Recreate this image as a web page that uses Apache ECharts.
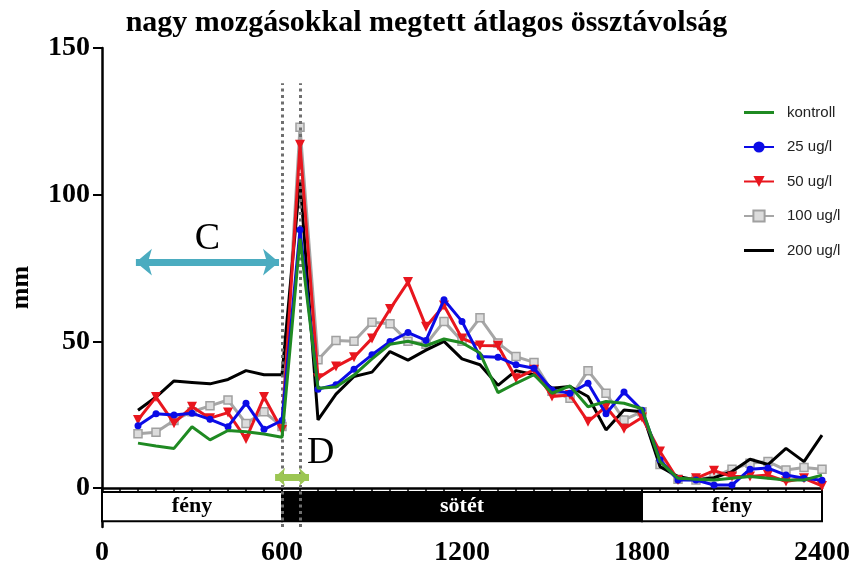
<!DOCTYPE html>
<html>
<head>
<meta charset="utf-8">
<script src="https://cdn.jsdelivr.net/npm/echarts@6/dist/echarts.min.js"></script>
<style>
  html, body { margin: 0; padding: 0; background: #fff; }
  #chart { width: 853px; height: 574px; }
</style>
</head>
<body>
<div id="chart"></div>
<script>
// időpontok (s)
const times = [120, 180, 240, 300, 360, 420, 480, 540, 600, 660,
  720, 780, 840, 900, 960, 1020, 1080, 1140, 1200, 1260, 1320, 1380, 1440, 1500,
  1560, 1620, 1680, 1740, 1800, 1860, 1920, 1980, 2040, 2100, 2160, 2220, 2280, 2340, 2400]

const kontroll = [15.3, 14.3, 13.5, 20.9, 16.4, 19.6, 19.2, 18.4, 17.3, 85,
  34, 34.4, 38.5, 44, 49, 50, 48.5, 50.8, 49.5, 46, 32.5, 35.7, 38.6, 32.3,
  34.8, 27.7, 29.5, 28.9, 27, 9, 3.3, 3, 2.7, 3.3, 3.9, 3.3, 2.7, 2.7, 4.4]
const ug25 = [21.2, 25.3, 24.9, 25.5, 23.4, 20.9, 28.9, 20, 23, 88,
  33.7, 35.2, 40.5, 45.4, 49.9, 53, 50.3, 64.2, 56.8, 44.8, 44.6, 42, 40.8, 33.4,
  32.3, 35.7, 25.3, 32.7, 26.5, 9.6, 2.7, 2.7, 1, 1, 6.4, 6.8, 4.4, 3.3, 2.6]
const ug50 = [23.2, 31, 22.1, 27.7, 23.8, 25.7, 16.7, 31, 19.8, 117,
  37.4, 41.4, 44.6, 51, 61, 70.2, 55, 62.2, 51, 48.6, 48.5, 37.4, 40.3, 31.2,
  31.7, 22.6, 27.7, 20.2, 24, 12.4, 2.7, 3.3, 5.9, 3.9, 3.9, 4.4, 2.2, 3.3, 0.7]
const ug100 = [18.5, 19, 23, 26, 28, 30, 22, 26, 21, 123,
  43.7, 50.3, 50, 56.5, 56, 50, 49, 56.8, 50, 58, 49.4, 44.8, 42.8, 33,
  30.6, 40, 32.3, 23.2, 26, 8, 3, 2.7, 3.9, 6.4, 8.4, 9, 6.1, 7, 6.4]
const ug200 = [26.5, 31, 36.5, 36, 35.5, 37, 40, 38.6, 38.6, 105,
  23.2, 32, 38, 39.5, 46.5, 43.6, 47, 50, 44, 42, 35, 40, 38.6, 34,
  34.6, 31.2, 19.8, 26.6, 26, 7.3, 3.9, 2.7, 3.5, 5.6, 9.8, 8, 13.5, 9, 18]

const xTicks = [0, 600, 1200, 1800, 2400]
const yTicks = [0, 50, 100, 150]
// fény / sötét szakaszok
const phases = [
  { name: 'fény', from: 0, to: 600 },
  { name: 'sötét', from: 600, to: 1800 },
  { name: 'fény', from: 1800, to: 2400 }
]
const markers = [600, 660]

const serif = 'Liberation Serif'
const pair = (ys) => times.map((t, i) => [t, ys[i]])
const plainLine = 'path://M0 0H30V3H0Z'

const chart = echarts.init(document.getElementById('chart'))

const lineSeries = (name, ys, color, symbol, size, z, extra) => Object.assign({
  name: name,
  type: 'line',
  data: pair(ys),
  z: z,
  symbol: symbol,
  symbolSize: size,
  showSymbol: symbol !== 'none',
  lineStyle: { color: color, width: 3 },
  itemStyle: { color: color },
  emphasis: { disabled: true },
  animation: false
}, extra || {})

const option = {
  animation: false,
  title: {
    text: 'nagy mozgásokkal megtett átlagos össztávolság',
    left: 'center',
    top: 3,
    textStyle: { fontFamily: serif, fontWeight: 'bold', fontSize: 30, color: '#000' }
  },
  legend: {
    data: [
      { name: 'kontroll', icon: plainLine },
      '25 ug/l',
      '50 ug/l',
      '100 ug/l',
      { name: '200 ug/l', icon: plainLine }
    ],
    orient: 'vertical',
    left: 738,
    top: 100,
    itemWidth: 30,
    itemHeight: 14,
    itemGap: 19.5,
    textStyle: { fontFamily: 'Liberation Sans', fontSize: 15, color: '#222', padding: [0, 0, 0, 8] }
  },
  grid: { left: 99, right: 28, top: 48, bottom: 47 },
  xAxis: {
    type: 'value',
    min: 0,
    max: 2400,
    interval: 600,
    splitLine: { show: false },
    axisLine: { lineStyle: { color: '#000', width: 2.5 } },
    axisTick: { length: 9, lineStyle: { color: '#000', width: 2 } },
    minorTick: { show: true, splitNumber: 10, length: 5, lineStyle: { color: '#000', width: 1.5 } },
    axisLabel: {
      customValues: xTicks,
      formatter: v => String(v),
      fontFamily: serif, fontWeight: 'bold', fontSize: 28, color: '#000', margin: 12
    }
  },
  yAxis: {
    type: 'value',
    min: -13.3,
    max: 150,
    name: 'mm',
    nameLocation: 'middle',
    nameGap: 68,
    nameTextStyle: { fontFamily: serif, fontWeight: 'bold', fontSize: 26, color: '#000' },
    splitLine: { show: false },
    axisLine: { show: true, lineStyle: { color: '#000', width: 2.5 } },
    axisTick: { show: true, customValues: yTicks, length: 9, lineStyle: { color: '#000', width: 2 } },
    axisLabel: {
      customValues: yTicks,
      fontFamily: serif, fontWeight: 'bold', fontSize: 28, color: '#000', margin: 12
    }
  },
  series: [
    // jelölések: fény/sötét sáv, pontozott vonalak, C és D nyilak
    {
      name: 'marks',
      type: 'line',
      data: [],
      z: 1,
      silent: true,
      markArea: {
        silent: true,
        data: phases.map(p => {
          const dark = p.name === 'sötét'
          return [
            {
              xAxis: p.from, yAxis: -1.4, name: p.name,
              itemStyle: { color: dark ? '#000' : '#fff', borderColor: '#000', borderWidth: 2 },
              label: {
                show: true, position: 'inside', color: dark ? '#fff' : '#000',
                fontFamily: serif, fontWeight: 'bold', fontSize: 22
              }
            },
            { xAxis: p.to, yAxis: -11.3 }
          ]
        })
      },
      markLine: {
        silent: true,
        animation: false,
        data: markers.map(x => [
          {
            coord: [x, -13.3], symbol: 'none',
            lineStyle: { color: '#6f6f6f', width: 3, type: [3, 3.5] },
            label: { show: false }
          },
          { coord: [x, 138], symbol: 'none' }
        ]).concat([
          [
            {
              coord: [113, 77], symbol: 'arrow', symbolSize: [20, 16],
              lineStyle: { color: '#4bacc0', width: 7, type: 'solid' },
              itemStyle: { color: '#4bacc0' },
              label: {
                show: true, formatter: 'C', position: 'middle', distance: 4,
                fontFamily: serif, fontSize: 38, color: '#000'
              }
            },
            { coord: [590, 77], symbol: 'arrow', symbolSize: [20, 16] }
          ],
          [
            {
              coord: [577, 3.75], symbol: 'arrow', symbolSize: [14, 10],
              lineStyle: { color: '#9cc653', width: 7, type: 'solid' },
              itemStyle: { color: '#9cc653' },
              label: {
                show: true, formatter: 'D', position: 'end', distance: 0, offset: [-2, -24],
                fontFamily: serif, fontSize: 38, color: '#000'
              }
            },
            { coord: [690, 3.75], symbol: 'arrow', symbolSize: [14, 10] }
          ]
        ])
      }
    },
    lineSeries('100 ug/l', ug100, '#a6a6a6', 'rect', 8, 3, {
      itemStyle: { color: '#dcdcdc', borderColor: '#a0a0a0', borderWidth: 1.5 }
    }),
    lineSeries('200 ug/l', ug200, '#000000', 'none', 0, 4),
    lineSeries('50 ug/l', ug50, '#e8161e', 'triangle', 10, 5, { symbolRotate: 180 }),
    lineSeries('25 ug/l', ug25, '#0b0be6', 'circle', 7, 6),
    lineSeries('kontroll', kontroll, '#1f8a22', 'none', 0, 7)
  ]
}

chart.setOption(option)
</script>
</body>
</html>
